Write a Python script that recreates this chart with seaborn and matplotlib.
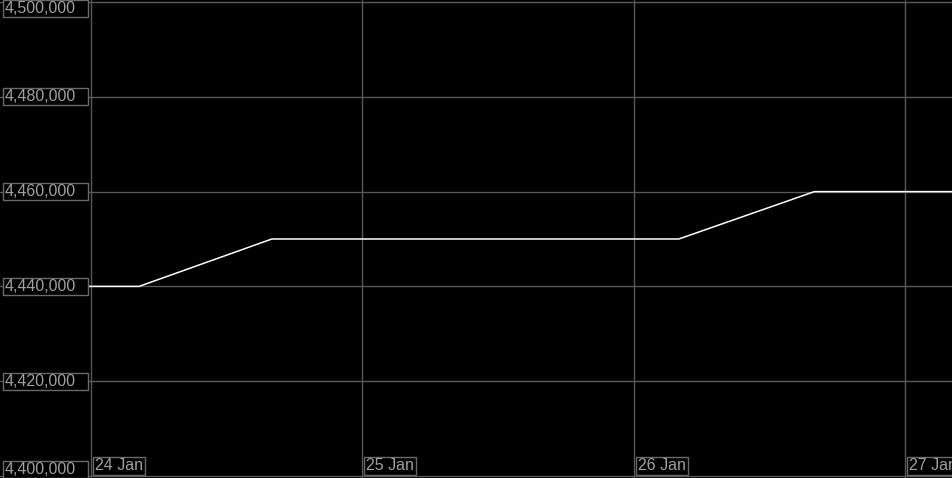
import pandas as pd
import seaborn as sns
import matplotlib.pyplot as plt
import matplotlib.dates as mdates
from matplotlib.patches import Rectangle

# price series
times = ["2024-01-23 23:45", "2024-01-24 04:15", "2024-01-24 16:00",
         "2024-01-26 04:00", "2024-01-26 16:00", "2024-01-27 04:30"]
prices = [4440000, 4440000, 4450000, 4450000, 4460000, 4460000]

y_ticks = [4400000, 4420000, 4440000, 4460000, 4480000, 4500000]
x_ticks = ["2024-01-24", "2024-01-25", "2024-01-26", "2024-01-27"]
x_labels = ["24 Jan", "25 Jan", "26 Jan", "27 Jan"]

W, H = 953, 478
grid_col = "#585858"
box_col = "#6a6a6a"
txt_col = "#a0a0a0"

df = pd.DataFrame({"time": pd.to_datetime(times), "price": prices})

sns.set_style("dark", {"axes.facecolor": "black", "figure.facecolor": "black"})
plt.rcParams["font.family"] = ["Liberation Sans", "DejaVu Sans"]

fig = plt.figure(figsize=(W / 100, H / 100), dpi=100)
ax = fig.add_axes([0, 0, 1, 1])

sns.lineplot(data=df, x="time", y="price", ax=ax, color="white",
             linewidth=1.1, estimator=None, zorder=3)

# axis limits so that 24 Jan sits at x=91px, one day ~271px
px_day = 271.3
x0 = mdates.date2num(pd.Timestamp("2024-01-24")) - 91 / px_day
x1 = x0 + W / px_day
y0 = 4400000 - 2 * 100000 / 474
y1 = y0 + H * 100000 / 474
ax.set_xlim(x0, x1)
ax.set_ylim(y0, y1)

ax.set_xticks(mdates.date2num(pd.to_datetime(x_ticks)))
ax.set_yticks(y_ticks)
ax.grid(True, color=grid_col, linewidth=1)
ax.tick_params(length=0, labelbottom=False, labelleft=False)
ax.set_xlabel("")
ax.set_ylabel("")
for s in ax.spines.values():
    s.set_visible(False)

# y labels in boxes on the left
for v in y_ticks:
    py = (y1 - v) / (y1 - y0) * H
    py = min(max(py, 8.5), H - 8.5)
    cy = (H - py) / H
    ax.add_patch(Rectangle((3 / W, cy - 8.5 / H), 85 / W, 17 / H, transform=ax.transAxes,
                           facecolor="black", edgecolor=box_col, linewidth=1, zorder=5,
                           clip_on=False))
    ax.text(5 / W, cy, f"{v:,}", transform=ax.transAxes, ha="left", va="center",
            fontsize=11.5, color=txt_col, zorder=6)

# x labels in boxes at the bottom
for d, lab in zip(x_ticks, x_labels):
    fx = (mdates.date2num(pd.Timestamp(d)) - x0) / (x1 - x0)
    ax.add_patch(Rectangle((fx + 2 / W, 3 / H), 52 / W, 18 / H, transform=ax.transAxes,
                           facecolor="black", edgecolor=box_col, linewidth=1, zorder=5))
    ax.text(fx + 4 / W, 12 / H, lab, transform=ax.transAxes, ha="left", va="center",
            fontsize=11.5, color=txt_col, zorder=6)

fig.savefig("out.png", dpi=100, facecolor="black")
